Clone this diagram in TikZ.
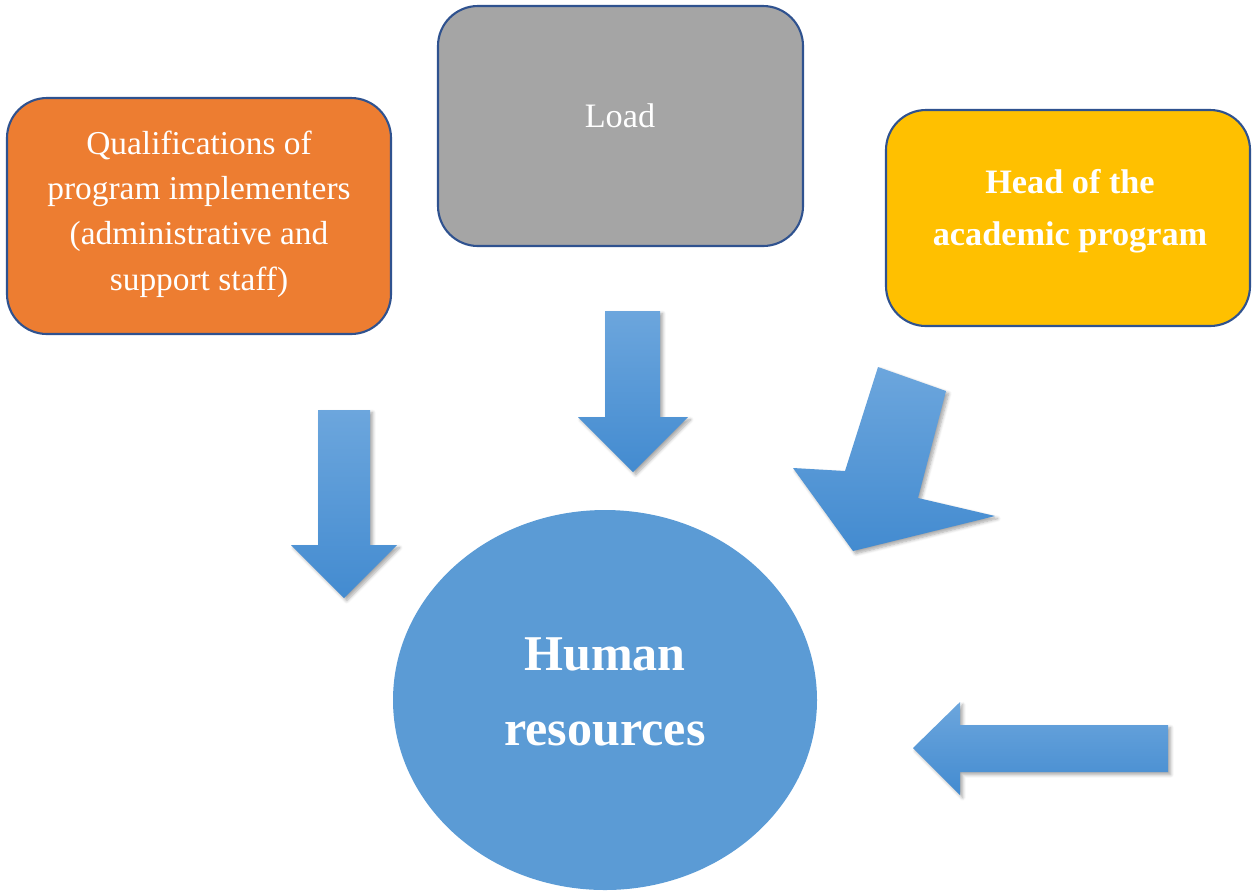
\documentclass[tikz,border=0pt]{standalone}
\usepackage{fontspec}
\setmainfont{Liberation Serif}
\usetikzlibrary{shadows.blur}

\definecolor{boxline}{HTML}{2F528F}
\definecolor{orangebox}{HTML}{ED7D31}
\definecolor{graybox}{HTML}{A5A5A5}
\definecolor{goldbox}{HTML}{FFC000}
\definecolor{hrblue}{HTML}{5B9BD5}
\definecolor{arrowtop}{HTML}{6CA6DD}
\definecolor{arrowbot}{HTML}{438BD0}

\tikzset{
  topicbox/.style={draw=boxline,line width=1.2pt,rounded corners=0.8cm,text=white,align=center,inner sep=0pt},
  blockarrow/.style={top color=arrowtop,bottom color=arrowbot,draw=none,
    blur shadow={shadow xshift=1.5pt,shadow yshift=-1.5pt,shadow blur steps=6,shadow opacity=35}}
}

\begin{document}
\begin{tikzpicture}[x=0.02cm,y=-0.02cm]
        \useasboundingbox (0,0) rectangle (1253,894);
        % the three topic boxes
        \draw[topicbox,fill=orangebox] (7,98) rectangle (391,334);
        \node[text=white,align=center,font=\fontsize{19}{25.8}\selectfont] (qual) at (199,214)
            {Qualifications of\\program implementers\\(administrative and\\support staff)};
        \draw[topicbox,fill=graybox] (438,6) rectangle (803,246);
        \node[text=white,font=\fontsize{19.5}{25.8}\selectfont] (load) at (620,116) {Load};
        \draw[topicbox,fill=goldbox] (886,110) rectangle (1250,326);
        \node[text=white,align=center,font=\bfseries\fontsize{19.5}{29.5}\selectfont] (head) at (1070,211)
            {Head of the\\academic program};
        % the circle in the middle
        \fill[hrblue] (605,700) ellipse [x radius=212,y radius=190];
        \node[text=white,align=center,font=\bfseries\fontsize{28.5}{42.5}\selectfont] (hr) at (605,692)
            {Human\\resources};
        % block arrows
        \path[blockarrow] (318,410)--(370,410)--(370,545)--(397,545)--(344,598)--(291,545)--(318,545)--cycle;
        \path[blockarrow] (605,311)--(660,311)--(660,417)--(688,417)--(633,472)--(578,417)--(605,417)--cycle;
        \path[blockarrow] (878,367)--(946,391)--(918,498)--(995,516)--(853,551)--(793,468)--(845,471)--cycle;
        \path[blockarrow] (1168,725)--(1168,772)--(960,772)--(960,795)--(913,748)--(960,702)--(960,725)--cycle;
    \end{tikzpicture}
\end{document}
